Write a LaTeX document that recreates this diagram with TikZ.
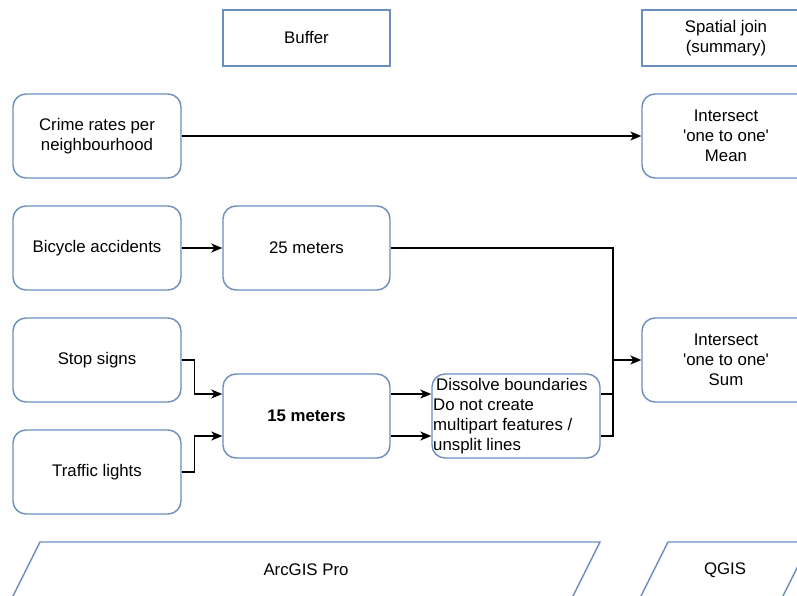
\documentclass[tikz,border=0pt]{standalone}
\usepackage{fontspec}
\setmainfont{Liberation Sans}
\usetikzlibrary{arrows.meta,calc}
\definecolor{bord}{HTML}{6C8EBF}
\begin{document}
\begin{tikzpicture}[x=1pt,y=-1pt,
  every node/.style={font=\fontsize{16.8}{20.2}\selectfont, text=black},
  rbox/.style={draw=bord, line width=1.4pt, rounded corners=13pt, minimum width=168pt, minimum height=84pt, align=center, inner sep=0pt},
  hbox/.style={draw=bord, line width=1.4pt, minimum width=168pt, minimum height=56pt, align=center, inner sep=0pt},
  conn/.style={draw=black, line width=1.4pt, -{Stealth[length=11pt,width=9pt,inset=3pt]}},
  plain/.style={draw=black, line width=1.4pt},
  para/.style={draw=bord, line width=1.4pt}]
\useasboundingbox (0,0) rectangle (797,596);
\clip (0,0) rectangle (797,596);
% header boxes
\node[hbox, minimum width=167pt] (buffer) at (306.5,38) {Buffer};
\node[hbox] (sjoin) at (726,38) {Spatial join\\(summary)};
% inputs
\node[rbox] (crime) at (97,136) {Crime rates per\\neighbourhood};
\node[rbox] (bike) at (97,248) {Bicycle accidents};
\node[rbox] (stop) at (97,360) {Stop signs};
\node[rbox] (traffic) at (97,472) {Traffic lights};
% buffers
\node[rbox, minimum width=167pt] (m25) at (306.5,248) {25 meters};
\node[rbox, minimum width=167pt, font=\fontsize{16.8}{20.2}\selectfont\bfseries] (m15) at (306.5,416) {15 meters};
\node[rbox] (diss) at (516,416) {};
\node[align=left, anchor=west, inner sep=0pt] (disstext) at (433,416) {\hspace{3pt}Dissolve boundaries\\Do not create\\multipart features /\\unsplit lines};
% outputs
\node[rbox] (mean) at (726,136) {Intersect\\\textquotesingle one to one\textquotesingle\\Mean};
\node[rbox] (sum) at (726,360) {Intersect\\\textquotesingle one to one\textquotesingle\\Sum};
% software parallelograms
\draw[para] (40,542) -- (600,542) -- (572,598) -- (12,598) -- cycle;
\node (arcgis) at (306,570) {ArcGIS Pro};
\draw[para] (668,542) -- (810,542) -- (782,598) -- (640,598) -- cycle;
\node (qgis) at (725,570) {QGIS};
% connectors
\coordinate (j) at (613,360);
\draw[conn] (crime) -- (mean);
\draw[conn] (bike) -- (m25);
\draw[conn] (m25.east) -| (j) -- (sum.west);
\draw[plain] ($(diss.east)+(0,-22)$) -| (j);
\draw[plain] ($(diss.east)+(0,20)$) -| (j);
\draw[conn] (stop.east) -- ++(13,0) |- ($(m15.west)+(0,-22)$);
\draw[conn] (traffic.east) -- ++(13,0) |- ($(m15.west)+(0,20)$);
\draw[conn] ($(m15.east)+(0,-22)$) -- ($(diss.west)+(0,-22)$);
\draw[conn] ($(m15.east)+(0,20)$) -- ($(diss.west)+(0,20)$);
\end{tikzpicture}
\end{document}
